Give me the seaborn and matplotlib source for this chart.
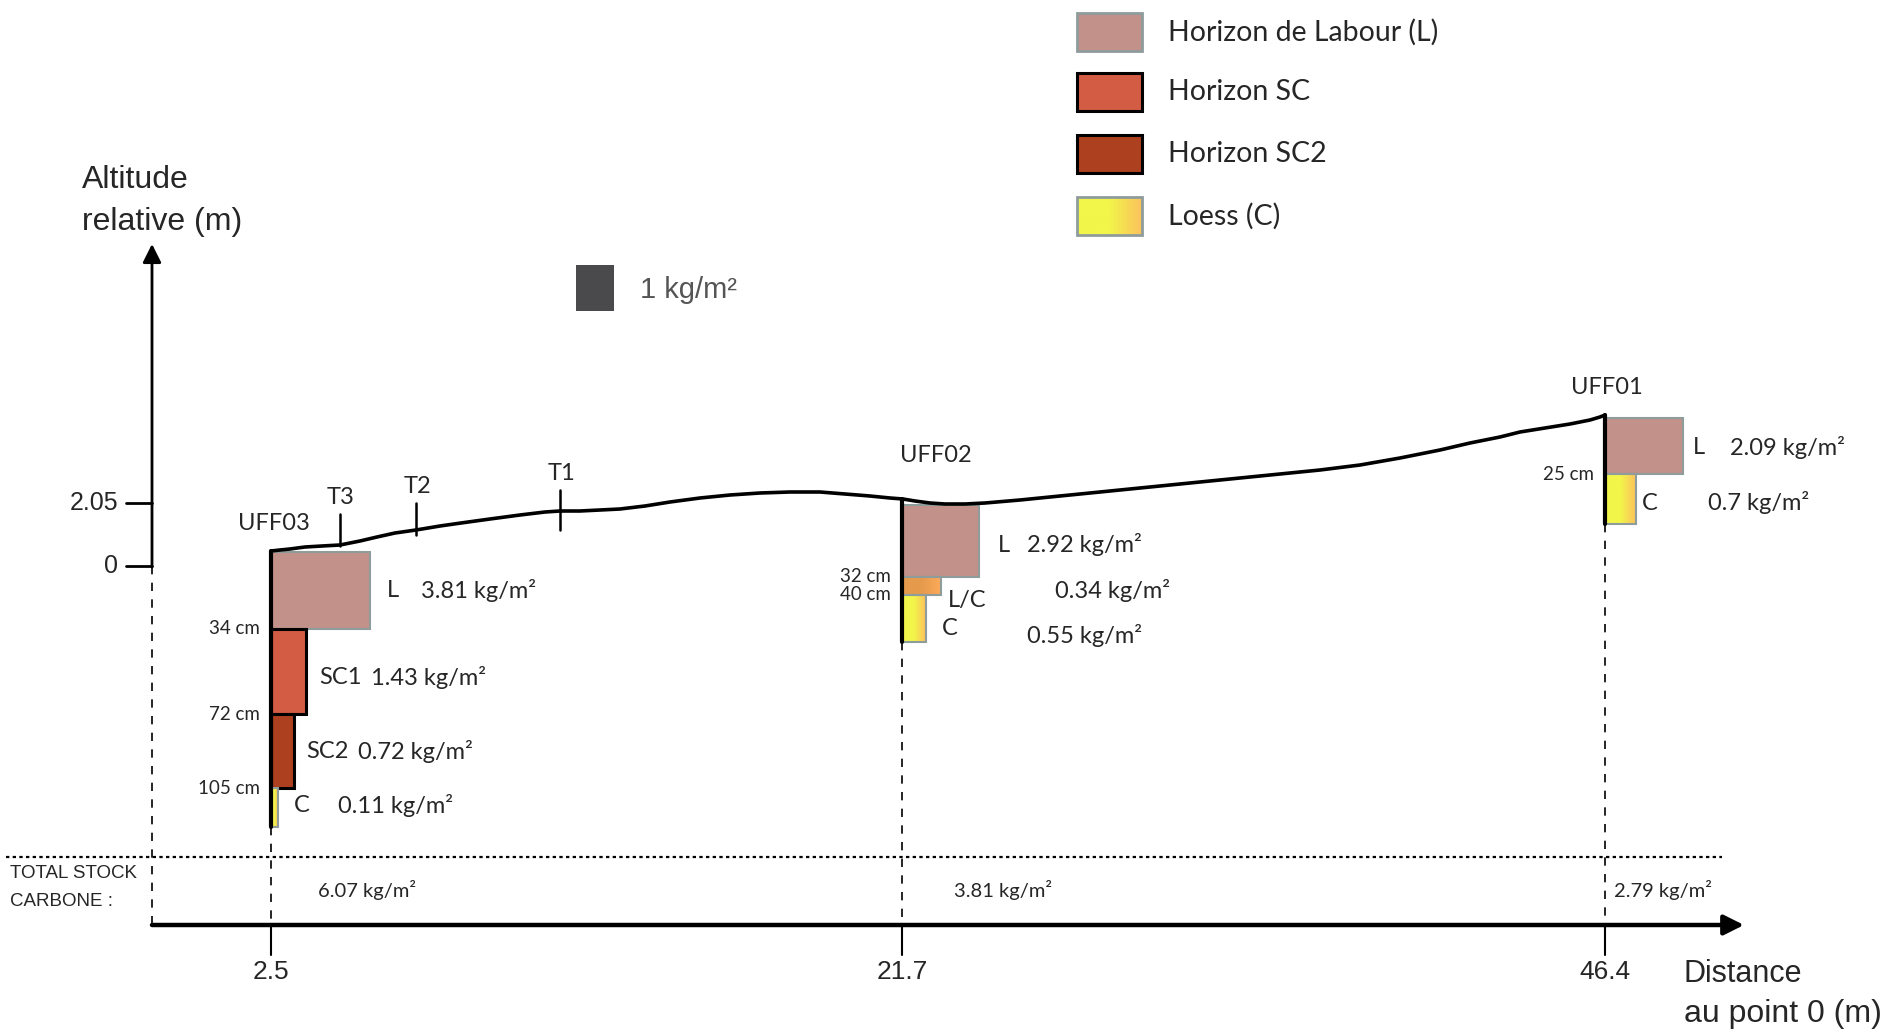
import numpy as np
import matplotlib
matplotlib.use("Agg")
import matplotlib.pyplot as plt
import seaborn as sns
import pandas as pd
from matplotlib.patches import Rectangle

# ---------------- data ----------------
profiles = ["UFF03", "UFF02", "UFF01"]
distances = ["2.5", "21.7", "46.4"]
totals = [6.07, 3.81, 2.79]

uff03_hz = ["L", "SC1", "SC2", "C"]
uff03_kg = [3.81, 1.43, 0.72, 0.11]
uff03_depth = [34, 72, 105]
uff02_hz = ["L", "L/C", "C"]
uff02_kg = [2.92, 0.34, 0.55]
uff02_depth = [32, 40]
uff01_hz = ["L", "C"]
uff01_kg = [2.09, 0.7]
uff01_depth = [25]
base_depth = [122, 61, 47]          # estimated bottom of each column (cm)

alt_ticks = [0, 2.05]
transects = ["T3", "T2", "T1"]

# traced ground surface (schematic drawing units)
terrain_x = [271, 280, 290, 305, 322, 340, 360, 377, 395, 416, 440, 461, 490, 520,
             545, 560, 580, 600, 620, 645, 670, 700, 730, 760, 790, 820, 845, 870,
             890, 903, 915, 930, 945, 965, 985, 1020, 1080, 1140, 1200, 1260, 1320,
             1360, 1400, 1440, 1470, 1500, 1520, 1545, 1570, 1590, 1600, 1605]
terrain_y = [551, 550, 549, 547, 546, 545, 541, 537, 533, 530, 526, 523, 519, 515,
             512, 511, 511, 510, 509, 506, 502, 498, 495, 493, 492, 492, 494, 496,
             498, 499, 501, 503, 504, 504, 503, 500, 494, 488, 482, 476, 470,
             465, 458, 450, 443, 437, 432, 428, 424, 420, 417, 415]

legend_labels = ["Horizon de Labour (L)", "Horizon SC", "Horizon SC2", "Loess (C)"]

# ---------------- layout / style ----------------
W, H = 1881, 1032
px_cm = 2.25
prof_x = [271, 902, 1605]
prof_top = [552, 505, 418]
xaxis_y, yaxis_x = 925, 152
alt0_y, px_m = 566, 30.7
trans_x = [340, 416, 560]

c_L, e_L = "#c2918a", "#8e9c9c"
c_SC, c_SC2 = "#d35c44", "#ad401f"
grad_C = ("#f2f54a", "#fbc25c")
grad_LC = ("#e59a4c", "#fcaa5a")
body = ["Lato", "DejaVu Sans"]
narrow = ["Liberation Sans Narrow", "Liberation Sans", "DejaVu Sans"]
arial = ["Liberation Sans", "DejaVu Sans"]
fs = 17

sns.set_theme(style="white")
plt.rcParams["font.family"] = body

fig = plt.figure(figsize=(W / 100, H / 100), dpi=100)
ax = fig.add_axes([0, 0, 1, 1])
ax.set_xlim(0, W)
ax.set_ylim(H, 0)
ax.axis("off")


def grad_box(x0, y0, w, h, cols, edge, lw=1.5):
    cmap = matplotlib.colors.LinearSegmentedColormap.from_list("g", [cols[0], cols[0], cols[1]])
    ax.imshow(np.linspace(0, 1, 64)[None, :], cmap=cmap, extent=(x0, x0 + w, y0 + h, y0),
              aspect="auto", zorder=3, interpolation="bilinear")
    ax.add_patch(Rectangle((x0, y0), w, h, fill=False, ec=edge, lw=lw, zorder=4))


# ground surface
surf = pd.DataFrame({"x": terrain_x, "y": terrain_y})
sns.lineplot(data=surf, x="x", y="y", ax=ax, color="black", lw=2.6, sort=False, zorder=5,
             solid_joinstyle="round", solid_capstyle="round")
for tx, tl, up, dn in zip(trans_x, transects, [31, 27, 21], [1, 5, 19]):
    ty = np.interp(tx, terrain_x, terrain_y)
    ax.plot([tx, tx], [ty - up, ty + dn], color="black", lw=1.8, zorder=5)
    ax.text(tx + 1, ty - up - 6, tl, ha="center", va="bottom", fontsize=fs)

# soil columns
columns = [
    (uff03_hz, uff03_kg, uff03_depth, [99, 35, 23, 7],
     [c_L, c_SC, c_SC2, "grad"], [e_L, "black", "black", "#8e9c9c"]),
    (uff02_hz, uff02_kg, uff02_depth, [77, 39, 24],
     [c_L, "gradLC", "grad"], [e_L, e_L, e_L]),
    (uff01_hz, uff01_kg, uff01_depth, [78, 31],
     [c_L, "grad"], [e_L, e_L]),
]
# label anchors: (letter dx from box right, kg x, letter dy, kg dy)
lab = [
    [(17, 421, 0, 0), (13, 371, 6, 6), (12, 358, 0, 0), (16, 338, -2, -2)],
    [(19, 1027, 4, 4), (7, 1055, 14, 4), (16, 1027, 10, 17)],
    [(10, 1730, 1, 1), (6, 1708, 4, 4)],
]
for i, (hz, kg, dep, wid, cols, edges) in enumerate(columns):
    x0, top = prof_x[i], prof_top[i]
    edges_y = [top] + [top + d * px_cm for d in dep] + [top + base_depth[i] * px_cm]
    for j in range(len(hz)):
        y0, y1 = edges_y[j], edges_y[j + 1]
        if cols[j] == "grad":
            grad_box(x0, y0, wid[j], y1 - y0, grad_C, edges[j])
        elif cols[j] == "gradLC":
            grad_box(x0, y0, wid[j], y1 - y0, grad_LC, edges[j])
        else:
            ax.add_patch(Rectangle((x0, y0), wid[j], y1 - y0, fc=cols[j], ec=edges[j],
                                   lw=2.2 if edges[j] == "black" else 1.5, zorder=3))
        cy = (y0 + y1) / 2
        ldx, kx, ldy, kdy = lab[i][j]
        ax.text(x0 + wid[j] + ldx, cy + ldy, hz[j], va="center", ha="left", fontsize=fs)
        ax.text(kx, cy + kdy, f"{kg[j]} kg/m²", va="center", ha="left", fontsize=fs)
    for d, yb in zip(dep, edges_y[1:-1]):
        ax.text(x0 - 11, yb, f"{d} cm", ha="right", va="center", fontsize=13.5)
    # column edge, dashed drop line, tick
    ax.plot([x0, x0], [np.interp(x0, terrain_x, terrain_y), edges_y[-1]], color="black", lw=3, zorder=6)
    ax.plot([x0, x0], [edges_y[-1], xaxis_y], color="black", lw=1.2, ls=(0, (5, 5)), zorder=2)
    ax.plot([x0, x0], [xaxis_y, xaxis_y + 30], color="black", lw=1.5)
    ax.text(x0, xaxis_y + 47, distances[i], ha="center", va="center", fontsize=19, family=narrow)

# profile names
ax.text(prof_x[0] + 3, prof_top[0] - 29, profiles[0], ha="center", va="center", fontsize=fs)
ax.text(prof_x[1] - 2, prof_top[1] - 50, profiles[1], ha="left", va="center", fontsize=fs)
ax.text(prof_x[2] + 2, prof_top[2] - 30, profiles[2], ha="center", va="center", fontsize=fs)

# altitude axis
ax.annotate("", xy=(yaxis_x, 244), xytext=(yaxis_x, alt0_y + 1),
            arrowprops=dict(arrowstyle="-|>", color="black", lw=2, mutation_scale=28, shrinkA=0, shrinkB=0))
ax.plot([yaxis_x, yaxis_x], [alt0_y, xaxis_y], color="black", lw=1.2, ls=(0, (5, 5)))
for a in alt_ticks:
    ay = alt0_y - a * px_m
    ax.plot([yaxis_x - 26, yaxis_x], [ay, ay], color="black", lw=2)
    ax.text(yaxis_x - 34, ay, f"{a:g}", ha="right", va="center", fontsize=18, family=narrow)
ax.text(82, 180, "Altitude", ha="left", va="center", fontsize=23, family=narrow)
ax.text(82, 222, "relative (m)", ha="left", va="center", fontsize=23, family=narrow)

# distance axis
ax.annotate("", xy=(1744, xaxis_y), xytext=(yaxis_x, xaxis_y),
            arrowprops=dict(arrowstyle="-|>", color="black", lw=3.2, mutation_scale=30, shrinkA=0, shrinkB=0))
ax.text(1684, 974, "Distance", ha="left", va="center", fontsize=22, family=narrow)
ax.text(1684, 1014, "au point 0 (m)", ha="left", va="center", fontsize=23, family=narrow)

# total carbon stock row
ax.plot([6, 1722], [857, 857], color="black", lw=1.6, ls=(0, (1.5, 1.5)))
ax.text(10, 874, "TOTAL STOCK", ha="left", va="center", fontsize=13.5, family=narrow)
ax.text(10, 901, "CARBONE :", ha="left", va="center", fontsize=13.5, family=narrow)
for tx, t in zip([318, 954, 1614], totals):
    ax.text(tx, 890, f"{t} kg/m²", ha="left", va="center", fontsize=14.5)

# scale square
ax.add_patch(Rectangle((576, 265), 38, 46, fc="#4a4a4c", ec="none"))
ax.text(640, 290, "1 kg/m²", ha="left", va="center", fontsize=21, color="#555555", family=arial)

# legend
for k, (ly, lbl) in enumerate(zip([13, 73, 135, 197], legend_labels)):
    if k == 0:
        ax.add_patch(Rectangle((1077, ly), 65, 38, fc=c_L, ec=e_L, lw=2))
    elif k == 3:
        grad_box(1077, ly, 65, 38, grad_C, e_L, lw=2)
    else:
        ax.add_patch(Rectangle((1077, ly), 65, 38, fc=[c_SC, c_SC2][k - 1], ec="black", lw=2.2))
    ax.text(1168, ly + 19, lbl, ha="left", va="center", fontsize=20.5)

ax.set_xlim(0, W)
ax.set_ylim(H, 0)
fig.savefig("out.png", dpi=100)
